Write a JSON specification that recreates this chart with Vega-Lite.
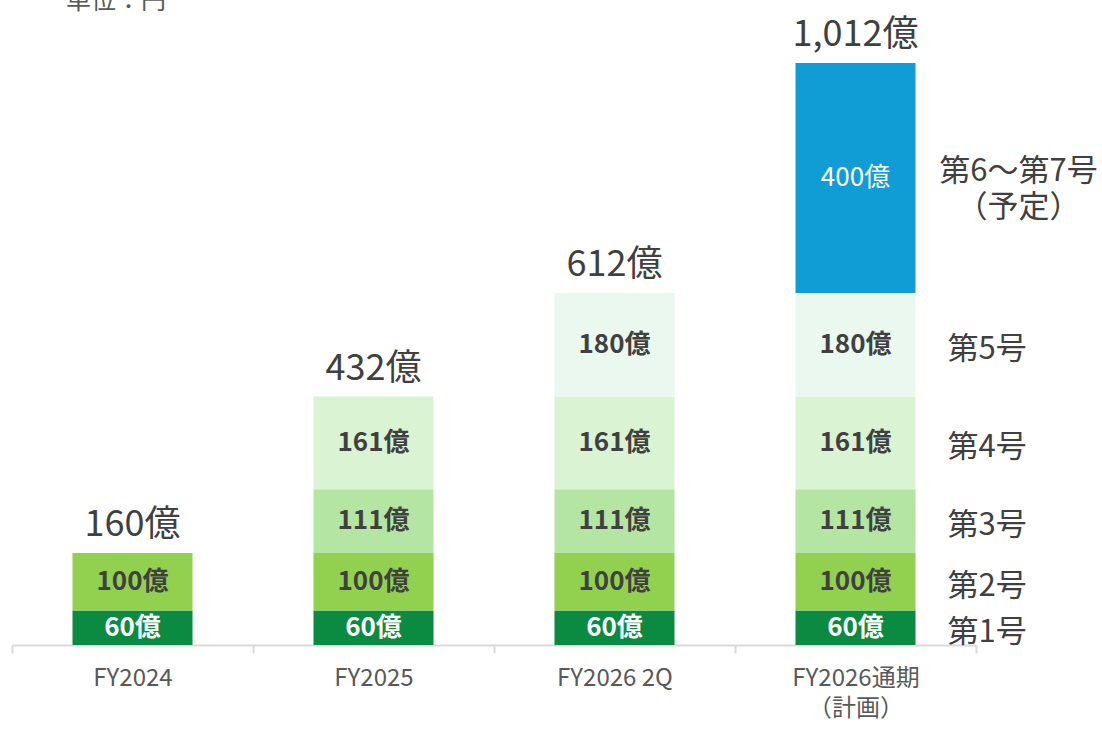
{
  "$schema": "https://vega.github.io/schema/vega-lite/v6.json",
  "width": 964,
  "height": 582,
  "autosize": {"type": "none"},
  "padding": {"top": 63, "left": 12, "right": 126, "bottom": 84},
  "background": "white",
  "config": {"view": {"stroke": null}, "font": "Noto Sans CJK JP"},
  "title": {"text": "単位：円", "anchor": "start", "frame": "group", "dx": 54, "dy": 22, "offset": 0, "baseline": "bottom", "fontSize": 25, "fontWeight": "normal", "color": "#595959"},
  "data": {
    "values": [
      {"cat": "FY2024", "series": "第1号", "ord": 1, "value": 60, "note": "第1号"},
      {"cat": "FY2024", "series": "第2号", "ord": 2, "value": 100, "note": "第2号"},
      {"cat": "FY2025", "series": "第1号", "ord": 1, "value": 60, "note": "第1号"},
      {"cat": "FY2025", "series": "第2号", "ord": 2, "value": 100, "note": "第2号"},
      {"cat": "FY2025", "series": "第3号", "ord": 3, "value": 111, "note": "第3号"},
      {"cat": "FY2025", "series": "第4号", "ord": 4, "value": 161, "note": "第4号"},
      {"cat": "FY2026 2Q", "series": "第1号", "ord": 1, "value": 60, "note": "第1号"},
      {"cat": "FY2026 2Q", "series": "第2号", "ord": 2, "value": 100, "note": "第2号"},
      {"cat": "FY2026 2Q", "series": "第3号", "ord": 3, "value": 111, "note": "第3号"},
      {"cat": "FY2026 2Q", "series": "第4号", "ord": 4, "value": 161, "note": "第4号"},
      {"cat": "FY2026 2Q", "series": "第5号", "ord": 5, "value": 180, "note": "第5号"},
      {"cat": "FY2026通期（計画）", "series": "第1号", "ord": 1, "value": 60, "note": "第1号"},
      {"cat": "FY2026通期（計画）", "series": "第2号", "ord": 2, "value": 100, "note": "第2号"},
      {"cat": "FY2026通期（計画）", "series": "第3号", "ord": 3, "value": 111, "note": "第3号"},
      {"cat": "FY2026通期（計画）", "series": "第4号", "ord": 4, "value": 161, "note": "第4号"},
      {"cat": "FY2026通期（計画）", "series": "第5号", "ord": 5, "value": 180, "note": "第5号"},
      {"cat": "FY2026通期（計画）", "series": "第6～第7号", "ord": 6, "value": 400, "note": "第6～第7号\n（予定）"}
    ]
  },
  "encoding": {
    "x": {
      "field": "cat",
      "type": "nominal",
      "sort": ["FY2024", "FY2025", "FY2026 2Q", "FY2026通期（計画）"],
      "scale": {"paddingInner": 0, "paddingOuter": 0},
      "axis": {
        "title": null,
        "labelAngle": 0,
        "labelFontSize": 24,
        "labelColor": "#595959",
        "labelPadding": 13,
        "labelLineHeight": 30,
        "labelExpr": "datum.value == 'FY2026通期（計画）' ? ['FY2026通期', '（計画）'] : datum.value",
        "domainColor": "#d9d9d9",
        "domainWidth": 2,
        "tickColor": "#d9d9d9",
        "tickWidth": 2,
        "tickSize": 8,
        "tickBand": "extent"
      }
    }
  },
  "layer": [
    {
      "mark": {"type": "bar", "width": {"band": 0.498}},
      "encoding": {
        "y": {"field": "value", "type": "quantitative", "stack": "zero", "scale": {"domain": [0, 1012], "nice": false, "zero": true}, "axis": null},
        "color": {
          "field": "series",
          "type": "nominal",
          "scale": {
            "domain": ["第1号", "第2号", "第3号", "第4号", "第5号", "第6～第7号"],
            "range": ["#0b8a42", "#92d050", "#b4e5a2", "#daf3d3", "#eaf8ef", "#109dd6"]
          },
          "legend": null
        },
        "order": {"field": "ord", "type": "quantitative"}
      }
    },
    {
      "transform": [
        {"stack": "value", "groupby": ["cat"], "sort": [{"field": "ord"}], "as": ["y0", "y1"]},
        {"calculate": "(datum.y0 + datum.y1) / 2", "as": "mid"},
        {"calculate": "datum.value + '億'", "as": "lab"},
        {"filter": "datum.series != '第6～第7号'"}
      ],
      "mark": {"type": "text", "fontSize": 26, "fontWeight": "bold", "baseline": "middle"},
      "encoding": {
        "y": {"field": "mid", "type": "quantitative", "scale": {"domain": [0, 1012], "nice": false, "zero": true}},
        "text": {"field": "lab"},
        "color": {"condition": {"test": "datum.series == '第1号'", "value": "white"}, "value": "#404040"}
      }
    },
    {
      "transform": [
        {"stack": "value", "groupby": ["cat"], "sort": [{"field": "ord"}], "as": ["y0", "y1"]},
        {"calculate": "(datum.y0 + datum.y1) / 2", "as": "mid"},
        {"calculate": "datum.value + '億'", "as": "lab"},
        {"filter": "datum.series == '第6～第7号'"}
      ],
      "mark": {"type": "text", "fontSize": 26, "fontWeight": "normal", "baseline": "middle", "color": "white"},
      "encoding": {
        "y": {"field": "mid", "type": "quantitative", "scale": {"domain": [0, 1012], "nice": false, "zero": true}},
        "text": {"field": "lab"}
      }
    },
    {
      "transform": [
        {"aggregate": [{"op": "sum", "field": "value", "as": "total"}], "groupby": ["cat"]},
        {"calculate": "format(datum.total, ',') + '億'", "as": "lab"}
      ],
      "mark": {"type": "text", "fontSize": 36, "baseline": "alphabetic", "dy": -17, "color": "#404040"},
      "encoding": {
        "y": {"field": "total", "type": "quantitative", "scale": {"domain": [0, 1012], "nice": false, "zero": true}},
        "text": {"field": "lab"}
      }
    },
    {
      "transform": [
        {"stack": "value", "groupby": ["cat"], "sort": [{"field": "ord"}], "as": ["y0", "y1"]},
        {"calculate": "(datum.y0 + datum.y1) / 2", "as": "mid"},
        {"filter": "datum.cat == 'FY2026通期（計画）' && datum.series != '第6～第7号'"}
      ],
      "mark": {"type": "text", "fontSize": 31, "align": "left", "baseline": "middle", "dx": 92, "dy": 5, "color": "#404040"},
      "encoding": {
        "y": {"field": "mid", "type": "quantitative", "scale": {"domain": [0, 1012], "nice": false, "zero": true}},
        "text": {"field": "note"}
      }
    },
    {
      "transform": [
        {"stack": "value", "groupby": ["cat"], "sort": [{"field": "ord"}], "as": ["y0", "y1"]},
        {"calculate": "(datum.y0 + datum.y1) / 2", "as": "mid"},
        {"filter": "datum.series == '第6～第7号'"}
      ],
      "mark": {"type": "text", "fontSize": 31, "align": "center", "baseline": "middle", "dx": 163, "dy": -6, "lineBreak": "\n", "lineHeight": 36, "color": "#404040"},
      "encoding": {
        "y": {"field": "mid", "type": "quantitative", "scale": {"domain": [0, 1012], "nice": false, "zero": true}},
        "text": {"field": "note"}
      }
    }
  ]
}
